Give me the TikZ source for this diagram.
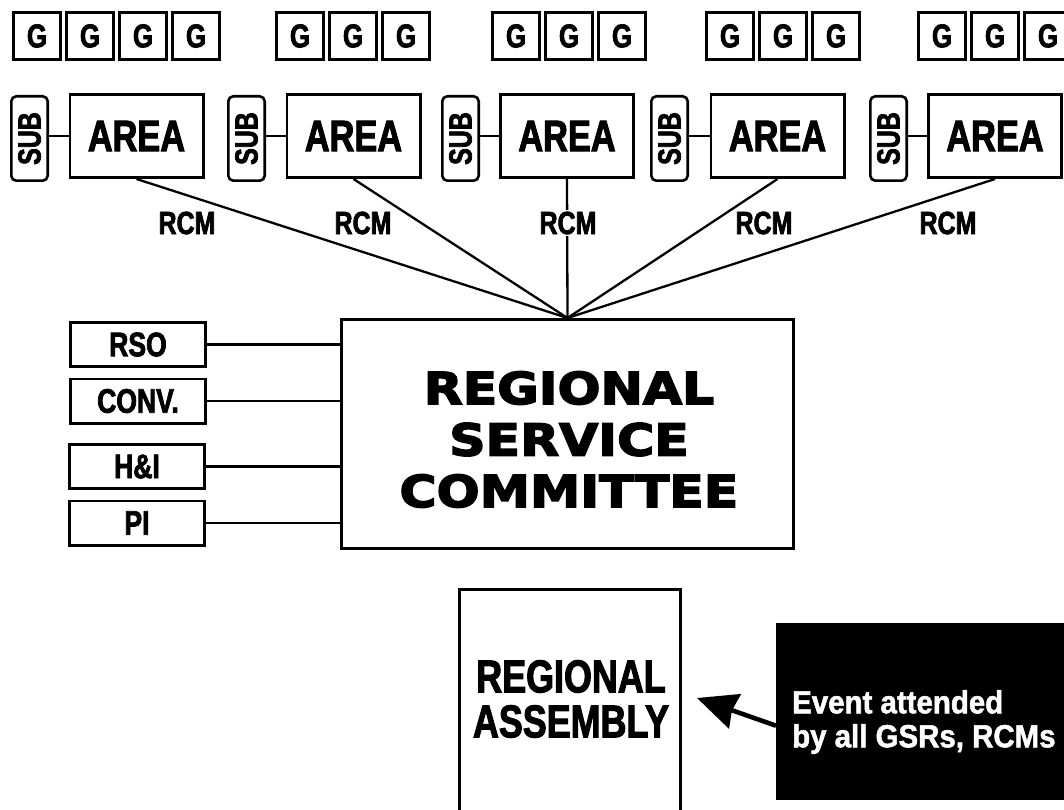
\documentclass[tikz,border=0pt]{standalone}
\usepackage{fontspec}
\usetikzlibrary{arrows.meta, positioning}
\newfontfamily\condfont[FakeStretch=0.78,FakeBold=2.2]{Liberation Sans Bold}
\newfontfamily\heavyfont[FakeStretch=1.15,FakeBold=3.5]{DejaVu Sans Bold}
\newfontfamily\eventfont[FakeStretch=0.92,FakeBold=1.6]{Liberation Sans Bold}

\begin{document}
\begin{tikzpicture}[x=1pt, y=-1pt,
    box/.style={draw, line width=2.6pt, inner sep=0pt},
    gbox/.style={box, minimum width=47.4pt, minimum height=47.4pt, font=\condfont\fontsize{33}{36}\selectfont},
    subbox/.style={box, rounded corners=5pt, minimum width=36.4pt, minimum height=84.4pt, font=\condfont\fontsize{32}{36}\selectfont},
    areabox/.style={box, minimum width=133.4pt, minimum height=83.4pt, font=\condfont\fontsize{44}{48}\selectfont},
    sidebox/.style={box, minimum width=135.4pt, minimum height=44.4pt, font=\condfont\fontsize{34}{40}\selectfont},
    rcm/.style={fill=white, inner sep=2pt, font=\condfont\fontsize{32}{36}\selectfont},
    link/.style={line width=2.3pt}]
        \useasboundingbox (0,0) rectangle (1064,810);
        \clip (0,0) rectangle (1064,810);

        % Groups
        \node[gbox] (g11) at (37,36) {G};
        \node[gbox] (g12) at (90,36) {G};
        \node[gbox] (g13) at (143,36) {G};
        \node[gbox] (g14) at (196,36) {G};

        \node[gbox] (g21) at (300,36) {G};
        \node[gbox] (g22) at (353,36) {G};
        \node[gbox] (g23) at (406,36) {G};

        \node[gbox] (g31) at (516,36) {G};
        \node[gbox] (g32) at (569,36) {G};
        \node[gbox] (g33) at (622,36) {G};

        \node[gbox] (g41) at (730,36) {G};
        \node[gbox] (g42) at (783,36) {G};
        \node[gbox] (g43) at (836,36) {G};

        \node[gbox] (g51) at (942,36) {G};
        \node[gbox] (g52) at (995,36) {G};
        \node[gbox] (g53) at (1048,36) {G};

        % Subcommittees and areas
        \node[subbox] (sub1) at (29.5,138.5) {\rotatebox{90}{SUB}};
        \node[areabox] (area1) at (136.5,136) {AREA};
        \node[subbox] (sub2) at (246.5,138.5) {\rotatebox{90}{SUB}};
        \node[areabox] (area2) at (353.5,136) {AREA};
        \node[subbox] (sub3) at (460.5,138.5) {\rotatebox{90}{SUB}};
        \node[areabox] (area3) at (567,136) {AREA};
        \node[subbox] (sub4) at (669.5,138.5) {\rotatebox{90}{SUB}};
        \node[areabox] (area4) at (777.5,136) {AREA};
        \node[subbox] (sub5) at (888.5,138.5) {\rotatebox{90}{SUB}};
        \node[areabox] (area5) at (995,136) {AREA};

        \draw[link] (area1.west) -- (area1.west -| sub1.east);
        \draw[link] (area2.west) -- (area2.west -| sub2.east);
        \draw[link] (area3.west) -- (area3.west -| sub3.east);
        \draw[link] (area4.west) -- (area4.west -| sub4.east);
        \draw[link] (area5.west) -- (area5.west -| sub5.east);

        % Regional service committee
        \node[box, minimum width=452.4pt, minimum height=229.4pt] (rsc) at (567.5,434) {};
        \node[align=center, inner sep=0pt, font=\heavyfont\fontsize{44}{51.5}\selectfont] (rsctext) at (569,439.5) {REGIONAL\\SERVICE\\COMMITTEE};

        % RCM lines
        \draw[link] (area1.south) -- (rsc.north);
        \draw[link] (area2.south) -- (rsc.north);
        \draw[link] (area3.south) -- (rsc.north);
        \draw[link] (area4.south) -- (rsc.north);
        \draw[link] (area5.south) -- (rsc.north);

        \node[rcm] (rcm1) at (187,223) {RCM};
        \node[rcm] (rcm2) at (363,223) {RCM};
        \node[rcm] (rcm3) at (568,223) {RCM};
        \node[rcm] (rcm4) at (764,223) {RCM};
        \node[rcm] (rcm5) at (948,223) {RCM};

        % Service boards
        \node[sidebox] (rso) at (138,344.5) {RSO};
        \node[sidebox] (conv) at (138,401) {CONV.};
        \node[sidebox] (hi) at (137,466.5) {H\&I};
        \node[sidebox] (pi) at (137,523) {PI};

        \draw[link] (rso.east) -- (rso.east -| rsc.west);
        \draw[link] (conv.east) -- (conv.east -| rsc.west);
        \draw[link] (hi.east) -- (hi.east -| rsc.west);
        \draw[link] (pi.east) -- (pi.east -| rsc.west);

        % Regional assembly
        \node[box, minimum width=221.4pt, minimum height=260pt, anchor=north] (ra) at (570,588) {};
        \node[align=center, inner sep=0pt, font=\condfont\fontsize{46}{45}\selectfont] (ratext) at (571,699) {REGIONAL\\ASSEMBLY};

        % Event note
        \node[fill=black, inner sep=0pt, minimum width=300pt, minimum height=177pt, anchor=north west] (event) at (776,623) {};
        \node[align=left, inner sep=0pt, anchor=west, text=white, font=\eventfont\fontsize{32}{34}\selectfont] (eventtext) at (792,722) {Event attended\\by all GSRs, RCMs};

        \coordinate (tip) at (697,698);
        \draw[line width=4.6pt, -{Stealth[length=40pt, width=36pt, inset=3pt]}] ([yshift=-14pt]event.west) -- (tip);
    \end{tikzpicture}
\end{document}
